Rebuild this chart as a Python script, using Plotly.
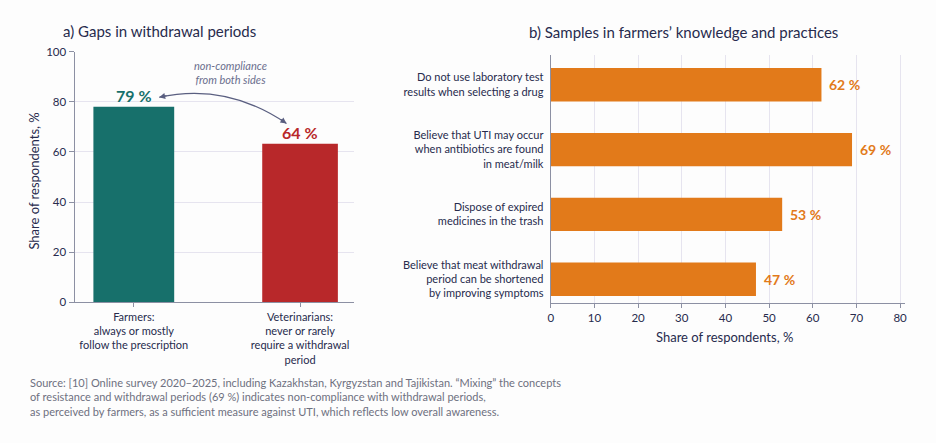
import plotly.graph_objects as go

W, H = 936, 443

# ---- data ----
left_categories = ["Farmers:<br>always or mostly<br>follow the prescription",
                   "Veterinarians:<br>never or rarely<br>require a withdrawal<br>period"]
left_values = [78.0, 63.3]
left_labels = ["79 %", "64 %"]
left_colors = ["#17706b", "#b8282a"]

right_categories = ["Do not use laboratory test<br>results when selecting a drug",
                    "Believe that UTI may occur<br>when antibiotics are found<br>in meat/milk",
                    "Dispose of expired<br>medicines in the trash",
                    "Believe that meat withdrawal<br>period can be shortened<br>by improving symptoms"]
right_values = [62, 69, 53, 47]
right_labels = ["62 %", "69 %", "53 %", "47 %"]

left_yticks = [0, 20, 40, 60, 80, 100]
right_xticks = [0, 10, 20, 30, 40, 50, 60, 70, 80]

FONT = "Lato"
NAVY = "#272b4d"
GRID = "#e6e4ef"
AXIS = "#8c90a3"
ORANGE = "#e27a1a"


def px(x):
    return x / W


def py(y):
    return 1 - y / H


fig = go.Figure()

fig.add_trace(go.Bar(
    x=left_categories, y=left_values, xaxis="x", yaxis="y",
    marker=dict(color=left_colors, line=dict(width=0)),
    width=[0.486, 0.455],
    hoverinfo="skip", showlegend=False,
))

fig.add_trace(go.Bar(
    x=right_values, y=right_categories, orientation="h", xaxis="x2", yaxis="y2",
    marker=dict(color=ORANGE, line=dict(width=0)),
    width=0.515,
    hoverinfo="skip", showlegend=False,
))

fig.update_layout(
    width=W, height=H,
    margin=dict(l=0, r=0, t=0, b=0),
    paper_bgcolor="#fdfdfd", plot_bgcolor="#fdfdfd",
    font=dict(family=FONT, color=NAVY, size=11),
    xaxis=dict(domain=[px(72), px(353.3)], range=[-0.356, 1.327],
               showline=True, linecolor=AXIS, linewidth=1.2,
               ticks="outside", ticklen=4, tickcolor=AXIS,
               showgrid=False, tickfont=dict(size=11, color=NAVY), fixedrange=True),
    yaxis=dict(domain=[py(304.3), py(46)], range=[0, 100],
               tickvals=left_yticks, showline=True, linecolor=AXIS, linewidth=1.2,
               ticks="outside", ticklen=5, tickcolor=AXIS,
               showgrid=True, gridcolor=GRID, gridwidth=1, zeroline=False,
               tickfont=dict(size=11.5, color=NAVY), fixedrange=True),
    xaxis2=dict(domain=[px(550.7), px(906.7)], range=[0, 81.1], anchor="y2",
                tickvals=right_xticks, showline=True, linecolor=AXIS, linewidth=1.2,
                ticks="outside", ticklen=4, tickcolor=AXIS,
                showgrid=True, gridcolor=GRID, gridwidth=1, zeroline=False,
                tickfont=dict(size=11.5, color=NAVY), fixedrange=True),
    yaxis2=dict(domain=[py(305), py(49)], range=[3.367, -0.466], anchor="x2",
                showline=True, linecolor=AXIS, linewidth=1.2, ticks="",
                ticklabelstandoff=4,
                showgrid=False, tickfont=dict(size=11, color=NAVY), fixedrange=True),
)

ann = []
# value labels through the axes' scales
for cat, val, lab, col in zip(left_categories, left_values, left_labels, left_colors):
    ann.append(dict(text=f"<b>{lab}</b>", x=cat, y=val, xref="x", yref="y",
                    xanchor="center", yanchor="middle", yshift=11, showarrow=False,
                    font=dict(family=FONT, size=16, color=col)))
for cat, val, lab in zip(right_categories, right_values, right_labels):
    ann.append(dict(text=f"<b>{lab}</b>", x=val, y=cat, xref="x2", yref="y2",
                    xanchor="left", yanchor="middle", xshift=6, showarrow=False,
                    font=dict(family=FONT, size=14, color=ORANGE)))

ann.append(dict(text="a) Gaps in withdrawal periods", x=px(58), y=py(25), xref="paper", yref="paper",
                xanchor="left", yanchor="middle", showarrow=False,
                font=dict(family=FONT, size=15, color=NAVY)))
ann.append(dict(text="b) Samples in farmers’ knowledge and practices", x=px(684), y=py(26), xref="paper", yref="paper",
                xanchor="center", yanchor="middle", showarrow=False,
                font=dict(family=FONT, size=15, color=NAVY)))
ann.append(dict(text="Share of respondents, %", x=px(31), y=py(179), xref="paper", yref="paper",
                xanchor="center", yanchor="middle", textangle=-90, showarrow=False,
                font=dict(family=FONT, size=13, color=NAVY)))
ann.append(dict(text="Share of respondents, %", x=px(725), y=py(340), xref="paper", yref="paper",
                xanchor="center", yanchor="middle", showarrow=False,
                font=dict(family=FONT, size=13, color=NAVY)))
ann.append(dict(text="<i>non-compliance<br>from both sides</i>", x=px(229), y=py(67.5), xref="paper", yref="paper",
                xanchor="center", yanchor="middle", showarrow=False,
                font=dict(family=FONT, size=11, color="#6b6f8e")))
# arrow heads
ann.append(dict(text="", x=px(157), y=py(93), xref="paper", yref="paper",
                ax=9, ay=-2, showarrow=True,
                arrowhead=2, arrowsize=1, arrowwidth=1.2, arrowcolor="#5a5f80"))
ann.append(dict(text="", x=px(285), y=py(120), xref="paper", yref="paper",
                ax=-7, ay=-5, showarrow=True,
                arrowhead=2, arrowsize=1, arrowwidth=1.2, arrowcolor="#5a5f80"))
ann.append(dict(text=("Source: [10] Online survey 2020–2025, including Kazakhstan, Kyrgyzstan and Tajikistan. “Mixing” the concepts<br>"
                      "of resistance and withdrawal periods (69 %) indicates non-compliance with withdrawal periods,<br>"
                      "as perceived by farmers, as a sufficient measure against UTI, which reflects low overall awareness."),
                x=px(25), y=py(402), xref="paper", yref="paper", align="left",
                xanchor="left", yanchor="middle", showarrow=False,
                font=dict(family=FONT, size=11, color="#6e7080")))
fig.update_layout(annotations=ann)

fig.add_shape(type="path", xref="paper", yref="paper",
              path=f"M {px(157)},{py(93)} Q {px(225)},{py(78)} {px(285)},{py(120)}",
              line=dict(color="#5a5f80", width=1.2))

fig.write_html("out.html")
